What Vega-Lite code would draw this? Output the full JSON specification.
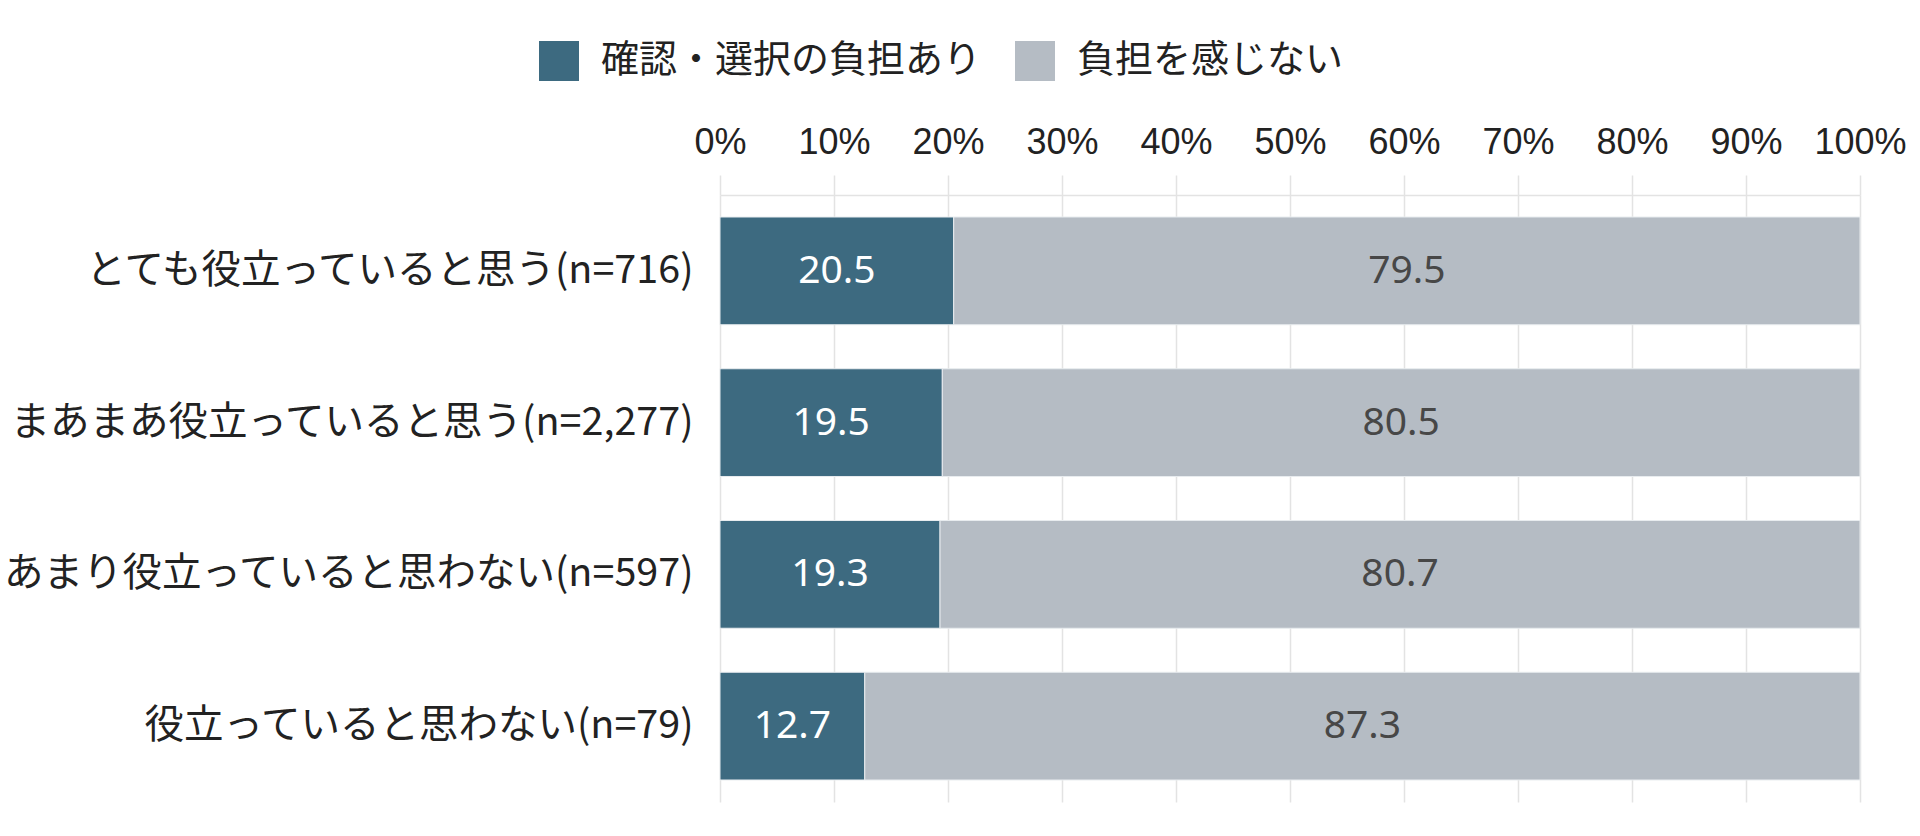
{
  "$schema": "https://vega.github.io/schema/vega-lite/v6.json",
  "width": 1140,
  "height": 607,
  "autosize": "none",
  "padding": {"left": 720, "top": 195, "right": 60, "bottom": 34},
  "background": "white",
  "data": {
    "values": [
      {"category": "とても役立っていると思う(n=716)", "group": "確認・選択の負担あり", "value": 20.5},
      {"category": "とても役立っていると思う(n=716)", "group": "負担を感じない", "value": 79.5},
      {"category": "まあまあ役立っていると思う(n=2,277)", "group": "確認・選択の負担あり", "value": 19.5},
      {"category": "まあまあ役立っていると思う(n=2,277)", "group": "負担を感じない", "value": 80.5},
      {"category": "あまり役立っていると思わない(n=597)", "group": "確認・選択の負担あり", "value": 19.3},
      {"category": "あまり役立っていると思わない(n=597)", "group": "負担を感じない", "value": 80.7},
      {"category": "役立っていると思わない(n=79)", "group": "確認・選択の負担あり", "value": 12.7},
      {"category": "役立っていると思わない(n=79)", "group": "負担を感じない", "value": 87.3}
    ]
  },
  "transform": [
    {"stack": "value", "groupby": ["category"], "sort": [{"field": "group", "order": "ascending"}], "as": ["x0", "x1"]},
    {"calculate": "(datum.x0 + datum.x1) / 2", "as": "xmid"}
  ],
  "encoding": {
    "y": {
      "field": "category",
      "type": "nominal",
      "sort": null,
      "title": null,
      "scale": {"paddingInner": 0.29, "paddingOuter": 0.145},
      "axis": {
        "domain": false,
        "ticks": false,
        "labelFont": "Noto Sans CJK JP",
        "labelFontSize": 39.5,
        "labelColor": "#222222",
        "labelPadding": 27,
        "labelLimit": 800
      }
    }
  },
  "layer": [
    {
      "mark": {"type": "bar", "stroke": "#e8ecef", "strokeWidth": 1},
      "encoding": {
        "x": {
          "field": "x0",
          "type": "quantitative",
          "title": null,
          "scale": {"domain": [0, 100], "nice": false},
          "axis": {
            "orient": "top",
            "values": [0, 10, 20, 30, 40, 50, 60, 70, 80, 90, 100],
            "labelExpr": "datum.value + '%'",
            "labelOverlap": false,
            "labelFlush": false,
            "labelFont": "Liberation Sans",
            "labelFontSize": 36,
            "labelColor": "#222222",
            "labelPadding": 14,
            "tickSize": 20,
            "tickColor": "#e3e3e3",
            "tickWidth": 1.5,
            "domainColor": "#e3e3e3",
            "domainWidth": 1.5,
            "grid": true,
            "gridColor": "#e3e3e3",
            "gridWidth": 1.5
          }
        },
        "x2": {"field": "x1"},
        "color": {
          "field": "group",
          "type": "nominal",
          "title": null,
          "scale": {
            "domain": ["確認・選択の負担あり", "負担を感じない"],
            "range": ["#3d6a80", "#b5bcc4"]
          },
          "legend": {
            "orient": "none",
            "direction": "horizontal",
            "legendX": -181,
            "legendY": -154,
            "symbolType": "square",
            "symbolSize": 1600,
            "symbolStrokeWidth": 0,
            "symbolOpacity": 1,
            "labelFont": "Noto Sans CJK JP",
            "labelFontSize": 38,
            "labelColor": "#222222",
            "labelOffset": 22,
            "columnPadding": 33,
            "labelLimit": 600
          }
        }
      }
    },
    {
      "mark": {"type": "text", "font": "Noto Sans", "fontSize": 39, "align": "center", "baseline": "middle"},
      "encoding": {
        "x": {"field": "xmid", "type": "quantitative"},
        "text": {"field": "value", "type": "quantitative", "format": ".1f"},
        "color": {
          "condition": {"test": "datum.group === '確認・選択の負担あり'", "value": "white"},
          "value": "#474747"
        }
      }
    }
  ],
  "config": {"view": {"stroke": null}}
}
